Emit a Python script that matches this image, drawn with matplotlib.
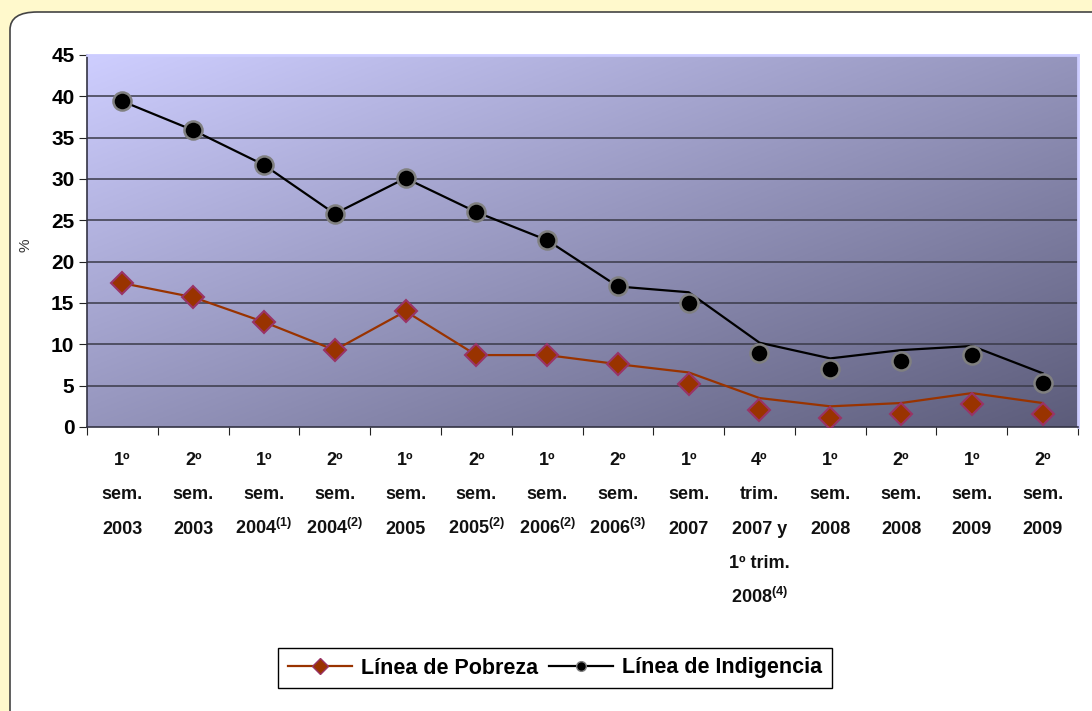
import matplotlib.pyplot as plt
import numpy as np
from matplotlib.patches import FancyBboxPatch
from matplotlib.lines import Line2D
from matplotlib.transforms import ScaledTranslation

plt.rcParams['font.family'] = ['Liberation Sans', 'DejaVu Sans']
plt.rcParams['mathtext.fontset'] = 'custom'
plt.rcParams['mathtext.rm'] = 'Liberation Sans:bold'
plt.rcParams['mathtext.it'] = 'Liberation Sans:bold'
plt.rcParams['mathtext.bf'] = 'Liberation Sans:bold'
plt.rcParams['mathtext.default'] = 'rm'

# etiquetas del eje x (una línea por renglón)
periodos = [
    ["1º", "sem.", "2003"],
    ["2º", "sem.", "2003"],
    ["1º", "sem.", "2004$^{(1)}$"],
    ["2º", "sem.", "2004$^{(2)}$"],
    ["1º", "sem.", "2005"],
    ["2º", "sem.", "2005$^{(2)}$"],
    ["1º", "sem.", "2006$^{(2)}$"],
    ["2º", "sem.", "2006$^{(3)}$"],
    ["1º", "sem.", "2007"],
    ["4º", "trim.", "2007 y", "1º trim.", "2008$^{(4)}$"],
    ["1º", "sem.", "2008"],
    ["2º", "sem.", "2008"],
    ["1º", "sem.", "2009"],
    ["2º", "sem.", "2009"],
]

# valores (línea y marcadores no coinciden en el original)
pobreza_linea = [17.4, 15.7, 12.7, 9.3, 14.0, 8.7, 8.7, 7.6, 6.6, 3.5, 2.5, 2.9, 4.1, 2.9]
pobreza_marca = [17.4, 15.7, 12.7, 9.3, 14.0, 8.7, 8.7, 7.6, 5.2, 2.1, 1.1, 1.6, 2.8, 1.6]
indigencia_linea = [39.4, 35.9, 31.7, 25.8, 30.1, 26.0, 22.6, 17.0, 16.3, 10.2, 8.3, 9.3, 9.8, 6.5]
indigencia_marca = [39.4, 35.9, 31.7, 25.8, 30.1, 26.0, 22.6, 17.0, 15.0, 8.9, 7.0, 8.0, 8.7, 5.3]

fig = plt.figure(figsize=(10.92, 7.11), dpi=100)
fig.patch.set_facecolor("#fff9cc")

# panel blanco con esquina redondeada
panel = FancyBboxPatch((10 / 1092, -0.1), 1.2, (711 - 12) / 711 + 0.1,
                       boxstyle="round,pad=0,rounding_size=0.025",
                       transform=fig.transFigure, facecolor="white",
                       edgecolor="#444444", linewidth=1.2, zorder=-5)
fig.patches.append(panel)

ax = fig.add_axes([87 / 1092, 1 - 427 / 711, (1078 - 87) / 1092, (427 - 55) / 711])
ax.set_zorder(2)
n = len(periodos)

# fondo degradado diagonal
u = np.linspace(0, 1, 300)
v = np.linspace(0, 1, 200)
U, V = np.meshgrid(u, v)
t = (U + V) / 2
c0 = np.array([206, 206, 255]) / 255
c1 = np.array([92, 92, 122]) / 255
img = c0[None, None, :] * (1 - t[..., None]) + c1[None, None, :] * t[..., None]
ax.imshow(img, extent=[0, n, 0, 45], origin="upper", aspect="auto", zorder=0)
ax.set_xlim(0, n)
ax.set_ylim(0, 45)

for yv in range(5, 45, 5):
    ax.axhline(yv, color="#3a3a48", linewidth=1.1, zorder=1)

x = np.arange(n) + 0.5
ax.plot(x, pobreza_linea, color="#993300", linewidth=1.6, zorder=3)
ax.plot(x, pobreza_marca, linestyle="none", marker="D", markersize=11,
        markerfacecolor="#993300", markeredgecolor="#993366", markeredgewidth=1.5, zorder=4)
ax.plot(x, indigencia_linea, color="black", linewidth=1.6, zorder=3)
ax.plot(x, indigencia_marca, linestyle="none", marker="o", markersize=13,
        markerfacecolor="black", markeredgecolor="#808080", markeredgewidth=1.8, zorder=4)

ax.set_xticks(np.arange(n + 1))
ax.set_xticklabels([])
ax.tick_params(axis="x", which="major", length=6, color="#222222")

# etiquetas de categorías, renglón por renglón
for i, lineas in enumerate(periodos):
    for k, txt in enumerate(lineas):
        off = ScaledTranslation(0, -(38 + 34.5 * k) / 100, fig.dpi_scale_trans)
        ax.text(x[i], 0, txt, transform=ax.get_xaxis_transform() + off,
                ha="center", va="baseline", fontsize=13, fontweight="bold",
                color="#111111", clip_on=False)

ax.set_yticks(range(0, 50, 5))
ax.set_yticklabels([str(v) for v in range(0, 50, 5)], fontsize=15, fontweight="bold")
ax.tick_params(axis="y", length=6, color="#222222", pad=3)
ax.set_ylabel("%", fontsize=11, color="#333333")
ax.yaxis.set_label_coords((33 - 87) / 991, (427 - 245) / 372)

for s in ["top", "right"]:
    ax.spines[s].set_color("#ccccff")
    ax.spines[s].set_linewidth(2)
ax.spines["left"].set_color("#333344")
ax.spines["bottom"].set_color("#333344")
ax.spines["left"].set_linewidth(1.2)
ax.spines["bottom"].set_linewidth(1.2)

handles = [
    Line2D([], [], color="#993300", linewidth=1.6, marker="D", markersize=8,
           markerfacecolor="#993300", markeredgecolor="#993366"),
    Line2D([], [], color="black", linewidth=1.6, marker="o", markersize=7,
           markerfacecolor="black", markeredgecolor="#808080"),
]
leg = fig.legend(handles, ["Línea de Pobreza", "Línea de Indigencia"],
                 loc="center", bbox_to_anchor=(555 / 1092, 1 - 668 / 711), ncol=2,
                 fancybox=False, edgecolor="black", framealpha=1,
                 prop={"size": 15.5, "weight": "bold"}, handlelength=3.0,
                 columnspacing=0.5, handletextpad=0.4, borderpad=0.45)
leg.get_frame().set_linewidth(1.0)

fig.savefig("out.png", dpi=100)
